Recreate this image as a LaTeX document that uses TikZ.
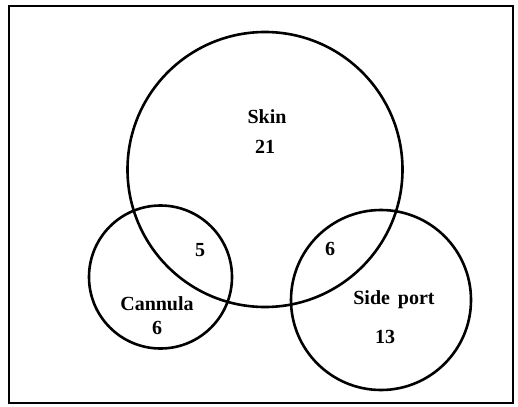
\documentclass[tikz,border=0pt]{standalone}
\usepackage{fontspec}
\setmainfont{Liberation Serif}
\begin{document}
\begin{tikzpicture}[x=1pt,y=-1pt,
  setc/.style={circle,draw,line width=2.6pt,inner sep=0pt},
  lbl/.style={font=\bfseries\fontsize{20}{22}\selectfont,inner sep=0pt}]
\useasboundingbox (0,0) rectangle (518,406);
\node[draw,line width=2pt,minimum width=504pt,minimum height=397pt,inner sep=0pt] (frame) at (261,204.5) {};
\node[setc,minimum size=275pt] (skin) at (265,169.5) {};
\node[setc,minimum size=143pt] (cannula) at (160.5,277) {};
\node[setc,minimum size=180pt] (side) at (381,300) {};
\node[lbl] (skinl) at (267,117) {Skin};
\node[lbl] (skinn) at (265,147) {21};
\node[lbl] (sc) at (200,250) {5};
\node[lbl] (ss) at (330,249) {6};
\node[lbl] (canl) at (157,304) {Cannula};
\node[lbl] (cann) at (157,328) {6};
\node[lbl] (sidel) at (394,300) {Side\hspace{0.4em}port};
\node[lbl] (siden) at (385,337) {13};
\end{tikzpicture}
\end{document}
